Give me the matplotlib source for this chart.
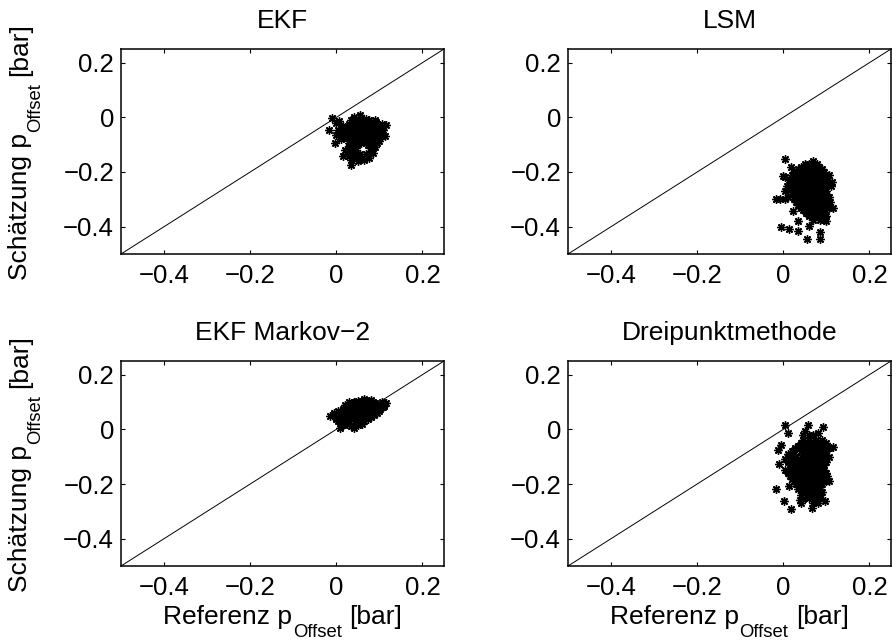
import matplotlib
matplotlib.use("Agg")
import matplotlib.pyplot as plt

plt.rcParams['font.family'] = ['Liberation Sans', 'DejaVu Sans']
plt.rcParams['axes.unicode_minus'] = True

titles = ["EKF", "LSM", "EKF Markov\u22122", "Dreipunktmethode"]
ticks = [-0.4, -0.2, 0, 0.2]
tick_labels = ["\u22120.4", "\u22120.2", "0", "0.2"]
lims = [-0.5, 0.25]
xlabel_parts = ["Referenz p", "Offset", "[bar]"]
ylabel_parts = ["Sch\u00e4tzung p", "Offset", "[bar]"]

# EKF
ekf_x = [-0.009, -0.016, -0.004, 0.005, 0.012, 0.054, 0.040, 0.070, 0.116, 0.112, 0.100,
         0.035, 0.077, 0.020, 0.015, 0.050, 0.065, 0.085, 0.090, 0.030, 0.025, 0.020,
         0.035, 0.050, 0.062, 0.075, 0.090,
         0.030, 0.045, 0.058, 0.070, 0.083, 0.095, 0.105,
         0.028, 0.040, 0.052, 0.066, 0.078, 0.090, 0.102,
         0.035, 0.048, 0.060, 0.072, 0.085, 0.097,
         0.030, 0.043, 0.056, 0.068, 0.080, 0.093, 0.105,
         0.038, 0.050, 0.064, 0.076, 0.088, 0.100,
         0.040, 0.048, 0.074, 0.085,
         0.030, 0.040, 0.045, 0.035, 0.055, 0.060, 0.070, 0.080, 0.025,
         0.040, 0.056, 0.068, 0.080, 0.092,
         0.015, 0.036, 0.050, 0.064, 0.076, 0.088, 0.100,
         0.005, 0.020, 0.034, 0.046, 0.058, 0.072, 0.084, 0.096, 0.108,
         0.000, 0.015, 0.040, 0.054, 0.066, 0.078, 0.090, 0.102,
         0.010, 0.036, 0.048, 0.060, 0.072, 0.084, 0.095,
         0.030, 0.044, 0.058, 0.070, 0.082, 0.094,
         0.035, 0.045, 0.080, 0.030, 0.050, 0.000, 0.006]
ekf_y = [-0.003, -0.046, -0.094, -0.060, -0.035, 0.008, 0.000, -0.005, -0.028, -0.070, -0.040,
         -0.173, -0.148, -0.120, -0.140, -0.160, -0.155, -0.130, -0.110, -0.105, -0.075, -0.055,
         -0.010, -0.010, -0.010, -0.010, -0.010,
         -0.025, -0.025, -0.025, -0.025, -0.025, -0.025, -0.025,
         -0.040, -0.040, -0.040, -0.040, -0.040, -0.040, -0.040,
         -0.055, -0.055, -0.055, -0.055, -0.055, -0.055,
         -0.070, -0.070, -0.070, -0.070, -0.070, -0.070, -0.070,
         -0.085, -0.085, -0.085, -0.085, -0.085, -0.085,
         -0.100, -0.098, -0.100, -0.100,
         -0.120, -0.130, -0.145, -0.155, -0.135, -0.150, -0.135, -0.125, -0.135,
         -0.018, -0.018, -0.018, -0.018, -0.018,
         -0.033, -0.033, -0.033, -0.033, -0.033, -0.033, -0.033,
         -0.048, -0.048, -0.048, -0.048, -0.048, -0.048, -0.048, -0.048, -0.048,
         -0.063, -0.063, -0.063, -0.063, -0.063, -0.063, -0.063, -0.063,
         -0.078, -0.078, -0.078, -0.078, -0.078, -0.078, -0.078,
         -0.093, -0.093, -0.093, -0.093, -0.093, -0.093,
         -0.110, -0.112, -0.112, -0.140, -0.142, -0.020, -0.012]

# LSM
lsm_x = [0.005, 0.018, -0.001, -0.016, -0.008, 0.003, 0.114, 0.116, 0.100, 0.068, 0.060,
         0.022, -0.005, 0.013, 0.034, 0.034, 0.059, 0.055, 0.084, 0.084, 0.090, 0.005, 0.010, 0.025,
         0.040, 0.055, 0.070, 0.082,
         0.030, 0.045, 0.058, 0.070, 0.085, 0.095,
         0.025, 0.038, 0.050, 0.062, 0.075, 0.088, 0.100,
         0.020, 0.035, 0.048, 0.060, 0.072, 0.085, 0.097,
         0.015, 0.030, 0.042, 0.055, 0.068, 0.080, 0.092,
         0.020, 0.035, 0.048, 0.060, 0.073, 0.086, 0.098,
         0.025, 0.040, 0.052, 0.065, 0.078, 0.090, 0.103,
         0.035, 0.050, 0.063, 0.075, 0.088, 0.100,
         0.045, 0.060, 0.072, 0.085, 0.097,
         0.060, 0.075, 0.088, 0.100,
         0.070, 0.085, 0.095,
         0.050, 0.065, 0.078,
         0.035, 0.050, 0.063, 0.076, 0.090,
         0.020, 0.032, 0.044, 0.056, 0.068, 0.080, 0.092, 0.105,
         0.012, 0.028, 0.042, 0.054, 0.066, 0.078, 0.090, 0.104,
         0.008, 0.022, 0.036, 0.048, 0.060, 0.074, 0.086, 0.098, 0.110,
         0.005, 0.025, 0.036, 0.048, 0.062, 0.074, 0.086, 0.098,
         0.010, 0.030, 0.042, 0.055, 0.067, 0.080, 0.092, 0.106,
         0.030, 0.045, 0.058, 0.070, 0.082, 0.095, 0.108,
         0.040, 0.055, 0.068, 0.080, 0.093, 0.105,
         0.052, 0.066, 0.078, 0.092,
         0.068, 0.082, 0.096]
lsm_y = [-0.153, -0.180, -0.216, -0.300, -0.300, -0.300, -0.238, -0.331, -0.380, -0.161, -0.170,
         -0.343, -0.400, -0.407, -0.380, -0.416, -0.398, -0.444, -0.420, -0.444, -0.370, -0.220, -0.265, -0.200,
         -0.180, -0.180, -0.180, -0.180,
         -0.200, -0.200, -0.200, -0.200, -0.200, -0.200,
         -0.220, -0.220, -0.220, -0.220, -0.220, -0.220, -0.220,
         -0.240, -0.240, -0.240, -0.240, -0.240, -0.240, -0.240,
         -0.260, -0.260, -0.260, -0.260, -0.260, -0.260, -0.260,
         -0.280, -0.280, -0.280, -0.280, -0.280, -0.280, -0.280,
         -0.300, -0.300, -0.300, -0.300, -0.300, -0.300, -0.300,
         -0.320, -0.320, -0.320, -0.320, -0.320, -0.320,
         -0.340, -0.340, -0.340, -0.340, -0.340,
         -0.360, -0.360, -0.360, -0.360,
         -0.375, -0.375, -0.375,
         -0.170, -0.170, -0.170,
         -0.190, -0.190, -0.190, -0.190, -0.190,
         -0.210, -0.210, -0.210, -0.210, -0.210, -0.210, -0.210, -0.210,
         -0.230, -0.230, -0.230, -0.230, -0.230, -0.230, -0.230, -0.230,
         -0.250, -0.250, -0.250, -0.250, -0.250, -0.250, -0.250, -0.250, -0.250,
         -0.270, -0.270, -0.270, -0.270, -0.270, -0.270, -0.270, -0.270,
         -0.290, -0.290, -0.290, -0.290, -0.290, -0.290, -0.290, -0.290,
         -0.310, -0.310, -0.310, -0.310, -0.310, -0.310, -0.310,
         -0.330, -0.330, -0.330, -0.330, -0.330, -0.330,
         -0.350, -0.350, -0.350, -0.350,
         -0.365, -0.365, -0.365]

# EKF Markov-2
mk_x = [-0.014, -0.005, 0.000, 0.008, 0.015, 0.042, 0.035, 0.050, 0.116, 0.110, 0.105,
        0.080, 0.065, 0.050, 0.030, 0.020, 0.090, 0.100,
        0.005, 0.020, 0.030, 0.055, 0.065,
        0.005, 0.018, 0.030, 0.042, 0.055, 0.068, 0.080,
        0.010, 0.022, 0.035, 0.048, 0.060, 0.072, 0.085, 0.095,
        0.015, 0.028, 0.040, 0.052, 0.065, 0.078, 0.090, 0.102,
        0.032, 0.045, 0.058, 0.070, 0.083, 0.095,
        0.040, 0.055, 0.070, 0.085,
        0.000, 0.012, 0.025, 0.038, 0.050, 0.062, 0.074,
        -0.005, 0.012, 0.025, 0.036, 0.048, 0.062, 0.075, 0.088,
        0.004, 0.016, 0.028, 0.042, 0.054, 0.066, 0.078, 0.090, 0.100,
        0.022, 0.035, 0.046, 0.058, 0.070, 0.084, 0.096, 0.108,
        0.038, 0.050, 0.064, 0.076, 0.090,
        0.010, 0.025, 0.045, 0.060,
        0.060, 0.075]
mk_y = [0.047, 0.060, 0.040, 0.004, 0.015, 0.004, 0.012, 0.015, 0.095, 0.085, 0.100,
        0.108, 0.110, 0.105, 0.100, 0.090, 0.070, 0.075,
        0.030, 0.030, 0.030, 0.030, 0.030,
        0.045, 0.045, 0.045, 0.045, 0.045, 0.045, 0.045,
        0.060, 0.060, 0.060, 0.060, 0.060, 0.060, 0.060, 0.060,
        0.075, 0.075, 0.075, 0.075, 0.075, 0.075, 0.075, 0.075,
        0.090, 0.090, 0.090, 0.090, 0.090, 0.090,
        0.100, 0.100, 0.100, 0.100,
        0.038, 0.038, 0.038, 0.038, 0.038, 0.038, 0.038,
        0.053, 0.053, 0.053, 0.053, 0.053, 0.053, 0.053, 0.053,
        0.068, 0.068, 0.068, 0.068, 0.068, 0.068, 0.068, 0.068, 0.068,
        0.083, 0.083, 0.083, 0.083, 0.083, 0.083, 0.083, 0.083,
        0.095, 0.095, 0.095, 0.095, 0.095,
        0.020, 0.020, 0.020, 0.020,
        0.105, 0.105]

# Dreipunktmethode
dp_x = [0.003, 0.057, 0.092, 0.011, -0.005, -0.013, 0.115, 0.080, -0.009, -0.018, 0.001,
        0.017, 0.038, 0.067, 0.096, 0.107, 0.014, 0.050, 0.060, 0.105,
        0.045, 0.060, 0.075, 0.090,
        0.035, 0.050, 0.065, 0.080, 0.095,
        0.020, 0.040, 0.055, 0.070, 0.085, 0.100,
        0.015, 0.030, 0.045, 0.060, 0.075, 0.090,
        0.010, 0.025, 0.040, 0.055, 0.070, 0.085, 0.100,
        0.015, 0.030, 0.045, 0.060, 0.075, 0.090,
        0.010, 0.025, 0.040, 0.055, 0.070, 0.085, 0.098,
        0.020, 0.035, 0.050, 0.065, 0.080, 0.095,
        0.030, 0.045, 0.060, 0.075, 0.090,
        0.035, 0.050, 0.065, 0.080,
        0.040, 0.055, 0.070, 0.085,
        0.045, 0.075,
        0.045, 0.070,
        0.040, 0.055, 0.070, 0.085, 0.100,
        0.028, 0.045, 0.060, 0.075, 0.090, 0.105,
        0.010, 0.025, 0.050, 0.065, 0.080, 0.095,
        0.005, 0.022, 0.038, 0.052, 0.068, 0.082, 0.096,
        0.020, 0.035, 0.050, 0.065, 0.080, 0.095,
        0.005, 0.020, 0.035, 0.050, 0.068, 0.082, 0.095,
        0.015, 0.030, 0.045, 0.060, 0.075, 0.090, 0.102,
        0.025, 0.040, 0.055, 0.070, 0.085, 0.100,
        0.040, 0.055, 0.070, 0.085,
        0.045, 0.060, 0.075, 0.090,
        0.060, 0.085,
        0.040, 0.070, 0.080]
dp_y = [0.015, 0.015, 0.007, -0.013, -0.056, -0.077, -0.065, -0.013, -0.128, -0.217, -0.262,
        -0.292, -0.260, -0.286, -0.262, -0.189, -0.207, -0.005, -0.020, -0.100,
        -0.040, -0.040, -0.040, -0.040,
        -0.060, -0.060, -0.060, -0.060, -0.060,
        -0.080, -0.080, -0.080, -0.080, -0.080, -0.080,
        -0.100, -0.100, -0.100, -0.100, -0.100, -0.100,
        -0.120, -0.120, -0.120, -0.120, -0.120, -0.120, -0.120,
        -0.140, -0.140, -0.140, -0.140, -0.140, -0.140,
        -0.160, -0.160, -0.160, -0.160, -0.160, -0.160, -0.160,
        -0.180, -0.180, -0.180, -0.180, -0.180, -0.180,
        -0.200, -0.200, -0.200, -0.200, -0.200,
        -0.220, -0.220, -0.220, -0.220,
        -0.240, -0.240, -0.240, -0.240,
        -0.255, -0.255,
        -0.020, -0.020,
        -0.050, -0.050, -0.050, -0.050, -0.050,
        -0.070, -0.070, -0.070, -0.070, -0.070, -0.070,
        -0.090, -0.090, -0.090, -0.090, -0.090, -0.090,
        -0.110, -0.110, -0.110, -0.110, -0.110, -0.110, -0.110,
        -0.130, -0.130, -0.130, -0.130, -0.130, -0.130,
        -0.150, -0.150, -0.150, -0.150, -0.150, -0.150, -0.150,
        -0.170, -0.170, -0.170, -0.170, -0.170, -0.170, -0.170,
        -0.190, -0.190, -0.190, -0.190, -0.190, -0.190,
        -0.210, -0.210, -0.210, -0.210,
        -0.230, -0.230, -0.230, -0.230,
        -0.250, -0.250,
        -0.270, -0.270, -0.270]

series = [(ekf_x, ekf_y), (lsm_x, lsm_y), (mk_x, mk_y), (dp_x, dp_y)]

W, H = 892, 643
fig = plt.figure(figsize=(W / 100, H / 100), dpi=100)
renderer = fig.canvas.get_renderer()
aw, ah = 323 / W, 205 / H
lefts = [121 / W, 568 / W]
bottoms = [1 - 254 / H, 1 - 566 / H]

MAIN, SUB, DROP, GAP = 19, 13.3, 13, 8


def text_width(s, size):
    t = fig.text(0, 0, s, fontsize=size)
    w = t.get_window_extent(renderer).width
    t.remove()
    return w


def compose(parts, cx, cy, vertical):
    sizes = [MAIN, SUB, MAIN]
    drops = [0, DROP, 0]
    gaps = [0, 1, GAP]
    ws = [text_width(s, sz) for s, sz in zip(parts, sizes)]
    total = sum(ws) + sum(gaps)
    pos = -total / 2
    for s, sz, w, d, g in zip(parts, sizes, ws, drops, gaps):
        pos += g
        if vertical:
            fig.text((cx + d) / W, (cy + pos) / H, s, fontsize=sz, rotation=90,
                     rotation_mode='anchor', ha='left', va='baseline')
        else:
            fig.text((cx + pos) / W, (cy - d) / H, s, fontsize=sz,
                     ha='left', va='baseline')
        pos += w


for i, (sx, sy) in enumerate(series):
    r, c = divmod(i, 2)
    ax = fig.add_axes([lefts[c], bottoms[r], aw, ah])
    ax.plot(lims, lims, color='black', lw=0.7)
    ax.plot(sx, sy, linestyle='none', marker=(8, 2, 0), markersize=6,
            markeredgewidth=1.0, color='black')
    ax.set_xlim(lims)
    ax.set_ylim(lims)
    ax.set_xticks(ticks)
    ax.set_xticklabels(tick_labels)
    ax.set_yticks(ticks)
    ax.set_yticklabels(tick_labels)
    ax.tick_params(direction='in', length=3, width=0.8, top=True, right=True,
                   labelsize=18.5, color='black')
    ax.tick_params(axis='x', pad=7)
    ax.tick_params(axis='y', pad=5)
    for s in ax.spines.values():
        s.set_linewidth(1.1)
    ax.set_title(titles[i], fontsize=19, pad=15)

# y labels (left column) and x labels (bottom row)
for r in range(2):
    top_px = 49 if r == 0 else 361
    center_from_bottom = H - (top_px + 102.5)
    compose(ylabel_parts, 27, center_from_bottom, vertical=True)
for c in range(2):
    cx = (121 if c == 0 else 568) + 161.5
    compose(xlabel_parts, cx, 19, vertical=False)

fig.savefig("out.png", dpi=100)
